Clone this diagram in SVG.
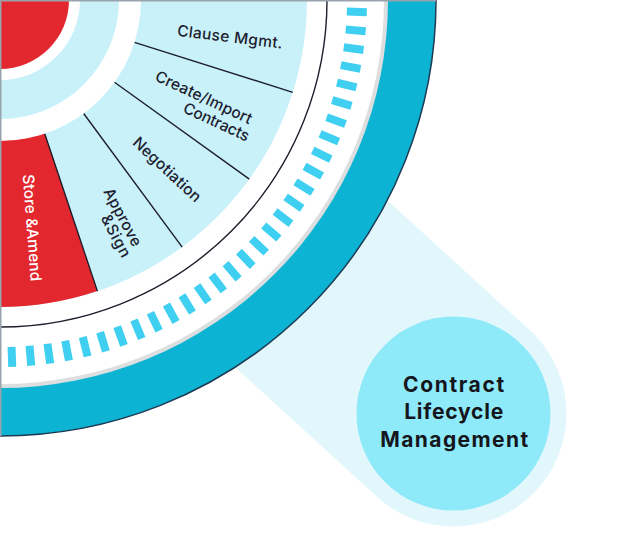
<svg xmlns="http://www.w3.org/2000/svg" xmlns:xlink="http://www.w3.org/1999/xlink" width="640" height="533" viewBox="0 0 640 533">
  <style>
    .lbl { font-family: Inter, "Liberation Sans", "DejaVu Sans", sans-serif; font-size: 15.5px; font-weight: 500; fill: #1e1e30; }
    .lblw { fill: #ffffff; }
    .clm { font-family: Inter, "Liberation Sans", "DejaVu Sans", sans-serif; font-size: 21px; font-weight: 700; fill: #15151c; text-anchor: middle; }
    .sep { stroke: #1e1e2c; stroke-width: 1.4; }
    .dash { fill: #3fd0f1; }
  </style>
  <defs>
    <rect id="d" class="dash" x="347" y="-4" width="20" height="8"/>
  </defs>
  <rect width="640" height="533" fill="#ffffff"/>

  <!-- beam towards the hub -->
  <g id="beam">
    <polygon points="76.2,-83.4 -76.2,83.4 377.3,496.9 529.7,330.1" fill="#e2f7fc"/>
    <circle cx="453.5" cy="413.5" r="113" fill="#e2f7fc"/>
  </g>

  <!-- quarter wheel -->
  <g id="wheel">
    <path d="M0,0 H436 A436,436 0 0 1 0,436 Z" fill="#0cb3d2" stroke="#1d3a54" stroke-width="1.5"/>
    <circle cx="0" cy="0" r="388" fill="#dcdedf"/>
    <circle cx="0" cy="0" r="384" fill="#ffffff"/>
    <g id="dashes">
      <use xlink:href="#d" transform="rotate(1.90)"/>
      <use xlink:href="#d" transform="rotate(4.87)"/>
      <use xlink:href="#d" transform="rotate(7.84)"/>
      <use xlink:href="#d" transform="rotate(10.82)"/>
      <use xlink:href="#d" transform="rotate(13.79)"/>
      <use xlink:href="#d" transform="rotate(16.76)"/>
      <use xlink:href="#d" transform="rotate(19.73)"/>
      <use xlink:href="#d" transform="rotate(22.70)"/>
      <use xlink:href="#d" transform="rotate(25.68)"/>
      <use xlink:href="#d" transform="rotate(28.65)"/>
      <use xlink:href="#d" transform="rotate(31.62)"/>
      <use xlink:href="#d" transform="rotate(34.59)"/>
      <use xlink:href="#d" transform="rotate(37.56)"/>
      <use xlink:href="#d" transform="rotate(40.54)"/>
      <use xlink:href="#d" transform="rotate(43.51)"/>
      <use xlink:href="#d" transform="rotate(46.48)"/>
      <use xlink:href="#d" transform="rotate(49.45)"/>
      <use xlink:href="#d" transform="rotate(52.42)"/>
      <use xlink:href="#d" transform="rotate(55.40)"/>
      <use xlink:href="#d" transform="rotate(58.37)"/>
      <use xlink:href="#d" transform="rotate(61.34)"/>
      <use xlink:href="#d" transform="rotate(64.31)"/>
      <use xlink:href="#d" transform="rotate(67.28)"/>
      <use xlink:href="#d" transform="rotate(70.26)"/>
      <use xlink:href="#d" transform="rotate(73.23)"/>
      <use xlink:href="#d" transform="rotate(76.20)"/>
      <use xlink:href="#d" transform="rotate(79.17)"/>
      <use xlink:href="#d" transform="rotate(82.14)"/>
      <use xlink:href="#d" transform="rotate(85.12)"/>
      <use xlink:href="#d" transform="rotate(88.09)"/>
    </g>
    <circle cx="0" cy="0" r="327" fill="#ffffff" stroke="#1e1e2c" stroke-width="1.4"/>
    <circle cx="0" cy="0" r="307" fill="#c8f1fa"/>
  </g>

  <g id="store-amend">
    <path d="M0,0 L97.4,291.1 A307,307 0 0 1 -10.7,306.8 Z" fill="#e3272e"/>
    <text class="lbl lblw" transform="rotate(85.7)" x="283" y="-9.6" text-anchor="end" textLength="107" lengthAdjust="spacing">Store &amp;Amend</text>
  </g>

  <g id="connectors">
    <line class="sep" x1="141" y1="0" x2="307" y2="0" transform="rotate(17.5)"/>
    <line class="sep" x1="141" y1="0" x2="307" y2="0" transform="rotate(35.7)"/>
    <line class="sep" x1="141" y1="0" x2="307" y2="0" transform="rotate(53.6)"/>
    <line class="sep" x1="141" y1="0" x2="307" y2="0" transform="rotate(71.5)"/>
  </g>

  <g id="hub-rings">
    <circle cx="0" cy="0" r="141" fill="#ffffff"/>
    <circle cx="0" cy="0" r="119" fill="#c8f1fa"/>
    <circle cx="0" cy="0" r="80" fill="#ffffff"/>
    <circle cx="0" cy="0" r="69" fill="#e3272e"/>
  </g>

  <g id="clause-mgmt">
    <text class="lbl" transform="rotate(7)" x="285.7" y="13.9" text-anchor="end" textLength="106" lengthAdjust="spacing">Clause Mgmt.</text>
  </g>
  <g id="create-import">
    <text class="lbl" transform="rotate(25)" text-anchor="end">
      <tspan x="282.6" y="7.5" textLength="105" lengthAdjust="spacing">Create/Import</tspan>
      <tspan x="283.1" y="24.3" textLength="71" lengthAdjust="spacing">Contracts</tspan>
    </text>
  </g>
  <g id="negotiation">
    <text class="lbl" transform="rotate(43)" x="281.4" y="15.4" text-anchor="end" textLength="87" lengthAdjust="spacing">Negotiation</text>
  </g>
  <g id="approve-sign">
    <text class="lbl" transform="rotate(62)" text-anchor="end">
      <tspan x="285.7" y="-1.1" textLength="64" lengthAdjust="spacing">Approve</tspan>
      <tspan x="285.7" y="13.7" textLength="46" lengthAdjust="spacing">&amp;Sign</tspan>
    </text>
  </g>

  <path d="M0.75,436 V0.75 H436" fill="none" stroke="#9aa3ab" stroke-width="1.5"/>

  <g id="clm-hub">
    <circle cx="453.5" cy="413.5" r="97" fill="#8eeaf9"/>
    <text class="clm" x="453.6" y="391.7" textLength="101" lengthAdjust="spacing">Contract</text>
    <text class="clm" x="453.7" y="419.3" textLength="99" lengthAdjust="spacing">Lifecycle</text>
    <text class="clm" x="454.2" y="446.7" textLength="148" lengthAdjust="spacing">Management</text>
  </g>
</svg>
